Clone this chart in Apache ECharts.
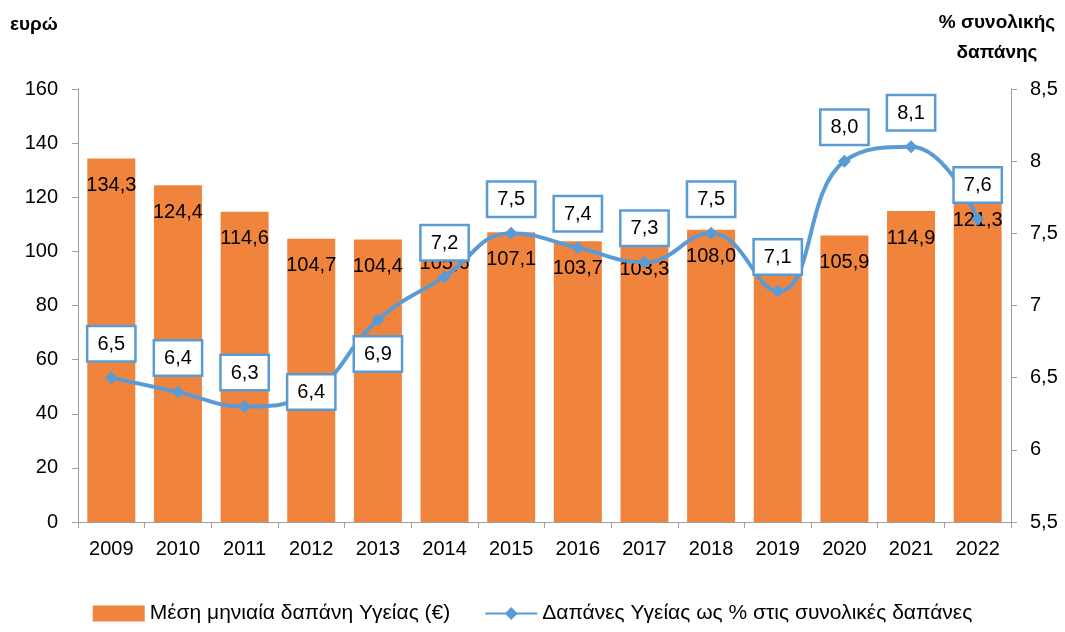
<!DOCTYPE html>
<html>
<head>
<meta charset="utf-8">
<script src="https://cdn.jsdelivr.net/npm/echarts@6/dist/echarts.min.js"></script>
<style>
  html, body { margin: 0; padding: 0; background: #fff; }
  #chart { width: 1065px; height: 632px; }
</style>
</head>
<body>
<div id="chart"></div>
<script>
// data
const years = ['2009', '2010', '2011', '2012', '2013', '2014', '2015', '2016', '2017', '2018', '2019', '2020', '2021', '2022'];
const monthlySpend = [134.3, 124.4, 114.6, 104.7, 104.4, 105.6, 107.1, 103.7, 103.3, 108.0, 104.8, 105.9, 114.9, 121.3];
const sharePct = [6.5, 6.4, 6.3, 6.4, 6.9, 7.2, 7.5, 7.4, 7.3, 7.5, 7.1, 8.0, 8.1, 7.6];
// where excel put each line label
const labelPos = ['top', 'top', 'top', 'inside', 'bottom', 'top', 'top', 'top', 'top', 'top', 'top', 'top', 'top', 'top'];

const font = 'Liberation Sans, Arial, Helvetica, sans-serif';
const orange = '#F0843C';
const blue = '#5B9BD5';

const fmt = v => v.toFixed(1).replace('.', ',');

const chart = echarts.init(document.getElementById('chart'));

const option = {
  animation: false,
  textStyle: { fontFamily: font },
  grid: { left: 78, right: 54, top: 89, bottom: 110 },
  graphic: [
    { type: 'text', x: 10, y: 15, style: { text: 'ευρώ', font: 'bold 19px ' + font, fill: '#000' } },
    { type: 'text', x: 997, y: 8, style: { text: '% συνολικής\nδαπάνης', font: 'bold 19px ' + font, fill: '#000', align: 'center', lineHeight: 30 } }
  ],
  legend: {
    bottom: 3,
    left: 'center',
    itemGap: 34,
    itemWidth: 52,
    itemHeight: 16,
    textStyle: { fontSize: 21, color: '#000', fontFamily: font },
    data: [
      { name: 'Μέση μηνιαία δαπάνη Υγείας (€)', icon: 'rect' },
      { name: 'Δαπάνες Υγείας ως % στις συνολικές δαπάνες' }
    ]
  },
  xAxis: {
    type: 'category',
    data: years,
    axisLine: { lineStyle: { color: '#9e9e9e' } },
    axisTick: { show: true, length: 6, lineStyle: { color: '#9e9e9e' } },
    axisLabel: { fontSize: 20, color: '#000', margin: 17 }
  },
  yAxis: [
    {
      type: 'value',
      min: 0, max: 160, interval: 20,
      axisLine: { show: true, lineStyle: { color: '#9e9e9e' } },
      axisTick: { show: true, length: 6, lineStyle: { color: '#9e9e9e' } },
      splitLine: { show: false },
      axisLabel: { fontSize: 20, color: '#000', margin: 20 }
    },
    {
      type: 'value',
      min: 5.5, max: 8.5, interval: 0.5,
      axisLine: { show: true, lineStyle: { color: '#9e9e9e' } },
      axisTick: { show: true, length: 6, lineStyle: { color: '#9e9e9e' } },
      splitLine: { show: false },
      axisLabel: {
        fontSize: 20, color: '#000', margin: 19,
        formatter: v => String(v).replace('.', ',')
      }
    }
  ],
  series: [
    {
      name: 'Μέση μηνιαία δαπάνη Υγείας (€)',
      type: 'bar',
      data: monthlySpend,
      barWidth: '72%',
      itemStyle: { color: orange },
      label: {
        show: true,
        position: 'insideTop',
        distance: 17,
        fontSize: 20,
        color: '#000',
        formatter: p => fmt(p.value)
      }
    },
    {
      name: 'Δαπάνες Υγείας ως % στις συνολικές δαπάνες',
      type: 'line',
      yAxisIndex: 1,
      smooth: 0.45,
      data: sharePct.map((v, i) => ({
        value: v,
        label: { position: labelPos[i] }
      })),
      symbol: 'diamond',
      symbolSize: 13,
      lineStyle: { color: blue, width: 4 },
      itemStyle: { color: blue },
      label: {
        show: true,
        distance: 11,
        fontSize: 20,
        color: '#000',
        backgroundColor: '#fff',
        borderColor: blue,
        borderWidth: 2.5,
        padding: [7, 9, 6, 9],
        formatter: p => fmt(p.value)
      },
      z: 5
    }
  ]
};

chart.setOption(option);
</script>
</body>
</html>
